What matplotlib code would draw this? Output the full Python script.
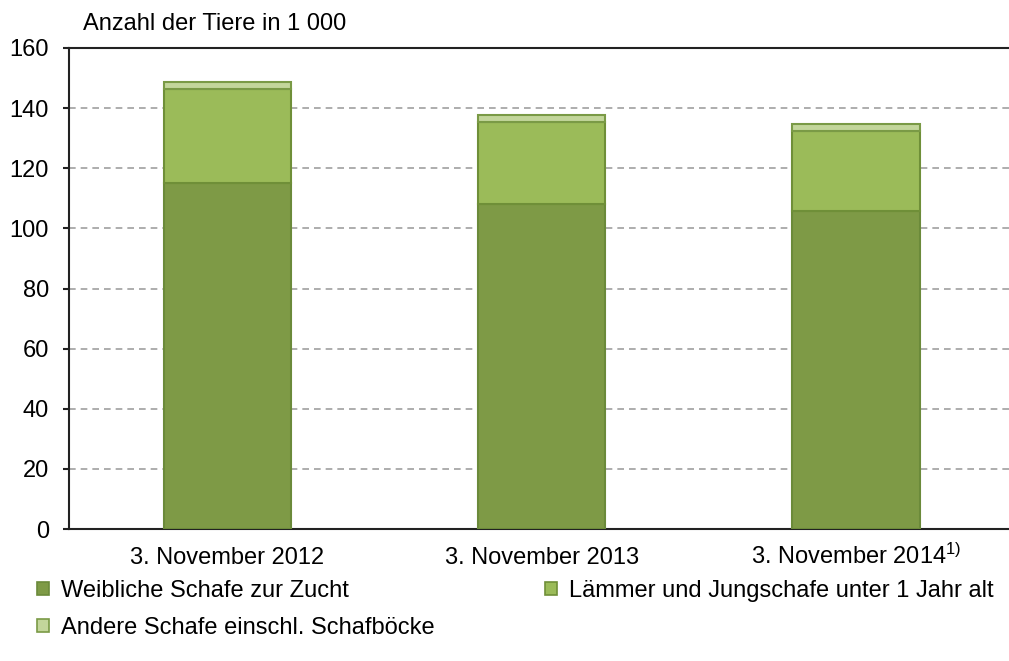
import matplotlib.pyplot as plt
from matplotlib.patches import Patch
from matplotlib.transforms import offset_copy

plt.rcParams['font.family'] = ['Liberation Sans', 'DejaVu Sans']
plt.rcParams['mathtext.fontset'] = 'custom'
plt.rcParams['mathtext.rm'] = 'Liberation Sans'

# Schafbestand, Anzahl in 1 000
categories = ['3. November 2012', '3. November 2013',
              '3. November 2014$\\mathregular{^{1)}}$']
weibliche = [115.2, 108.1, 105.9]
laemmer = [31.3, 27.3, 26.5]
andere = [2.3, 2.3, 2.2]

labels = ['Weibliche Schafe zur Zucht',
          'Lämmer und Jungschafe unter 1 Jahr alt',
          'Andere Schafe einschl. Schafböcke']
colors = ['#7e9a46', '#9bbb59', '#c3d69b']
edges = ['#6b8a3a', '#6f8f38', '#7a9a46']

fs = 17

fig = plt.figure(figsize=(10.09, 6.61), dpi=100)
ax = fig.add_axes([69 / 1009, 1 - 529 / 661, 1 - 69 / 1009, (529 - 48) / 661])

x = list(range(len(categories)))
w = 0.405
ax.bar(x, weibliche, w, color=colors[0], edgecolor=edges[0], lw=1.5, zorder=3)
bottom2 = weibliche
ax.bar(x, laemmer, w, bottom=bottom2, color=colors[1], edgecolor=edges[1], lw=1.5, zorder=3)
bottom3 = [a + b for a, b in zip(weibliche, laemmer)]
ax.bar(x, andere, w, bottom=bottom3, color=colors[2], edgecolor=edges[2], lw=1.5, zorder=3)

ax.set_xlim(-0.504, 2.487)
ax.set_ylim(0, 160)
ax.set_yticks(range(0, 161, 20))
ax.set_xticks([])
ax.tick_params(axis='y', length=4.5, width=1.5, pad=10, labelsize=fs, color='#222222')

# category labels on a common baseline
trans = offset_copy(ax.get_xaxis_transform(), fig=fig, y=-35, units='dots')
for xi, lab in zip(x, categories):
    ax.text(xi, 0, lab, transform=trans, ha='center', va='baseline', fontsize=fs)

for y in range(20, 160, 20):
    ax.axhline(y, color='#a0a0a0', lw=1.2, dashes=(4, 3), zorder=1)

ax.spines['right'].set_visible(False)
for s in ['left', 'bottom', 'top']:
    ax.spines[s].set_linewidth(1.5)
    ax.spines[s].set_color('#222222')

fig.text(83 / 1009, 1 - 24 / 661, 'Anzahl der Tiere in 1 000', fontsize=fs,
         ha='left', va='center')

handles = [Patch(facecolor=c, edgecolor=e, lw=1.2) for c, e in zip(colors, edges)]
kw = dict(frameon=False, fontsize=fs, handlelength=0.5, handleheight=0.5,
          handletextpad=0.5, labelspacing=0.62, borderaxespad=0, borderpad=0)
fig.legend([handles[0], handles[2]], [labels[0], labels[2]],
           loc='upper left', bbox_to_anchor=(37 / 1009, 1 - 580 / 661), **kw)
fig.legend([handles[1]], [labels[1]],
           loc='upper left', bbox_to_anchor=(545 / 1009, 1 - 580 / 661), **kw)

fig.savefig('out.png', dpi=100)
